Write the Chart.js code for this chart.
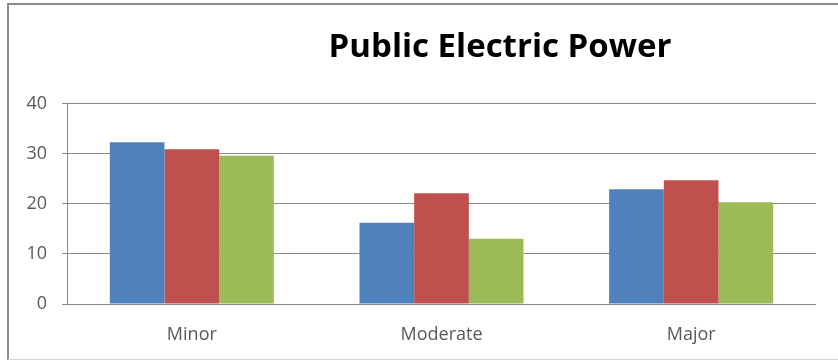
<!DOCTYPE html>
<html>
<head>
<meta charset="utf-8">
<script src="https://cdn.jsdelivr.net/npm/chart.js@4/dist/chart.umd.min.js"></script>
<style>
	html, body { margin: 0; padding: 0; overflow: hidden; background: #fff; }
	#wrap { position: relative; width: 838px; height: 362px; overflow: hidden; }
	#grafico { position: absolute; left: 0; top: 0; }
	#marco {
		position: absolute; left: 7px; top: 3px; width: 1100px; height: 354px;
		border-top: 2px solid #8c8c8c; border-left: 2px solid #8c8c8c;
		border-bottom: 1px solid #d6d6d6; pointer-events: none;
	}
</style>
</head>
<body>
<div id="wrap">
	<canvas id="grafico" width="1000" height="362"></canvas>
	<div id="marco"></div>
</div>
<script>
var categorias = ['Minor', 'Moderate', 'Major'];
var serie1 = [32.3, 16.2, 22.9];
var serie2 = [30.9, 22.1, 24.7];
var serie3 = [29.6, 13.0, 20.3];
var ticksY = [0, 10, 20, 30, 40];

var colorTexto = '#595959';
var colorLinea = '#8a8a8a';

new Chart(document.getElementById('grafico'), {
	type: 'bar',
	data: {
		labels: categorias,
		datasets: [
			{ data: serie1, backgroundColor: '#4f81bd' },
			{ data: serie2, backgroundColor: '#c0504d' },
			{ data: serie3, backgroundColor: '#9bbb59' }
		]
	},
	options: {
		responsive: false,
		animation: false,
		devicePixelRatio: 1,
		categoryPercentage: 0.657,
		barPercentage: 1,
		layout: { padding: { top: 28, left: 0, right: 0, bottom: 16 } },
		plugins: {
			legend: { display: false },
			tooltip: { enabled: false },
			title: {
				display: true,
				text: 'Public Electric Power',
				color: '#000',
				font: { family: 'Open Sans', size: 33, weight: 'bold' },
				padding: { top: 0, bottom: 36 }
			}
		},
		scales: {
			x: {
				afterFit: function(s){ s.height = 42; },
				grid: { display: false, drawTicks: false },
				border: { display: false },
				ticks: {
					color: colorTexto,
					padding: 20,
					font: { family: 'Open Sans', size: 18 }
				}
			},
			y: {
				min: ticksY[0],
				max: ticksY[ticksY.length - 1],
				afterBuildTicks: function(s){ s.ticks = ticksY.map(function(v){ return { value: v }; }); },
				afterFit: function(s){ s.width = 67; },
				grid: { color: colorLinea, lineWidth: 1, tickLength: 5 },
				border: { display: true, color: colorLinea, width: 1 },
				ticks: {
					color: colorTexto,
					padding: 15,
					font: { family: 'Open Sans', size: 18 }
				}
			},
			// espacio de la leyenda original (recortada)
			derecha: {
				type: 'linear',
				position: 'right',
				display: true,
				afterFit: function(s){ s.width = 184; },
				grid: { display: false, drawTicks: false },
				border: { display: false },
				ticks: { display: false }
			}
		}
	}
});
</script>
</body>
</html>
